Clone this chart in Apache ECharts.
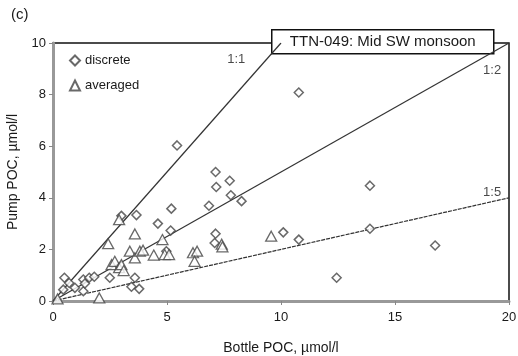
<!DOCTYPE html>
<html><head><meta charset="utf-8">
<script src="https://cdn.jsdelivr.net/npm/echarts@6/dist/echarts.min.js"></script>
<style>html,body{margin:0;padding:0;background:#fff}#c{width:518px;height:356px}</style>
</head><body><div id="c"></div>
<script>
const discrete = [[0.45,0.44],[0.5,0.9],[0.71,0.7],[0.96,0.51],[1.33,0.38],[1.33,0.83],[1.4,0.68],[1.59,0.9],[1.81,0.94],[2.49,0.9],[3.0,3.3],[3.44,0.55],[3.59,0.9],[3.78,0.47],[3.66,3.33],[4.6,3.0],[4.97,1.93],[5.16,2.73],[5.19,3.58],[5.44,6.03],[6.84,3.69],[7.09,2.25],[7.13,2.61],[7.13,5.0],[7.16,4.42],[7.75,4.66],[7.8,4.1],[8.27,3.87],[10.1,2.66],[10.78,2.38],[10.78,8.08],[12.44,0.9],[13.9,4.47],[13.9,2.8],[16.76,2.15]];
const averaged = [[0.2,0.08],[2.03,0.12],[2.42,2.22],[2.57,1.41],[2.71,1.54],[2.9,1.29],[2.9,3.15],[3.0,1.41],[3.1,1.18],[3.37,1.93],[3.59,2.6],[3.59,1.67],[3.81,1.93],[3.95,1.97],[4.42,1.78],[4.8,2.38],[4.9,1.8],[5.09,1.8],[6.14,1.87],[6.32,1.93],[6.21,1.54],[7.4,2.2],[7.43,2.1],[9.57,2.51]];
const line11 = [[0,0],[10,10]];
const line12 = [[0,0],[20,10]];
const line15 = [[0,0],[20,4]];
const ratioLabels = [[8.04,9.38,'1:1'],[19.26,8.92,'1:2'],[19.26,4.2,'1:5']];
const xTicks = [0,5,10,15,20];
const yTicks = [0,2,4,6,8,10];
const chartTitle = 'TTN-049: Mid SW monsoon';
const panelLabel = '(c)';

const chart = echarts.init(document.getElementById('c'));
const font = 'Liberation Sans, Arial, sans-serif';
const lineStyle = {color:'#333', width:1.2};
chart.setOption({
  animation:false,
  grid:{left:53,right:9,top:43,bottom:55,outerBoundsMode:'none',containLabel:false,show:true,borderColor:'#111',borderWidth:1.5,backgroundColor:'transparent'},
  xAxis:{type:'value',min:xTicks[0],max:xTicks[xTicks.length-1],interval:5,
    name:'Bottle POC, µmol/l',nameLocation:'middle',nameGap:40,
    nameTextStyle:{fontFamily:font,fontSize:14,color:'#1a1a1a'},
    axisLine:{lineStyle:{color:'#999',width:3}},
    axisTick:{show:true,length:4,lineStyle:{color:'#888'}},
    axisLabel:{fontFamily:font,fontSize:13,color:'#1a1a1a',margin:10},
    splitLine:{show:false}},
  yAxis:{type:'value',min:yTicks[0],max:yTicks[yTicks.length-1],interval:2,
    name:'Pump POC, µmol/l',nameLocation:'middle',nameGap:31,
    nameTextStyle:{fontFamily:font,fontSize:14,color:'#1a1a1a'},
    axisLine:{lineStyle:{color:'#999',width:3}},
    axisTick:{show:true,length:4,lineStyle:{color:'#888'}},
    axisLabel:{fontFamily:font,fontSize:13,color:'#1a1a1a',margin:7},
    splitLine:{show:false}},
  legend:{orient:'vertical',left:64,top:49,itemWidth:10,itemHeight:10,itemGap:12,
    data:['discrete','averaged'],textStyle:{fontFamily:font,fontSize:13,color:'#1a1a1a'}},
  series:[
    {type:'line',data:line11,symbol:'none',lineStyle:lineStyle,silent:true,z:1},
    {type:'line',data:line12,symbol:'none',lineStyle:lineStyle,silent:true,z:1},
    {type:'line',data:line15,symbol:'none',lineStyle:Object.assign({},lineStyle,{type:[4,1]}),silent:true,z:1},
    {name:'discrete',type:'scatter',data:discrete,symbol:'diamond',symbolSize:9,
      itemStyle:{color:'#fff',borderColor:'#444',borderWidth:1.5},z:3},
    {name:'averaged',type:'scatter',data:averaged,symbol:'triangle',symbolSize:[11,10],
      itemStyle:{color:'#fff',borderColor:'#444',borderWidth:1.3},z:3},
    {type:'scatter',data:ratioLabels,symbolSize:0,silent:true,
      label:{show:true,position:'inside',formatter:p=>p.data[2],fontFamily:font,fontSize:13,color:'#1a1a1a'}}
  ],
  graphic:[
    {type:'text',left:11,top:7,style:{text:panelLabel,font:'15px '+font,fill:'#1a1a1a'}},
    {type:'group',left:271,top:29,z:100,children:[
      {type:'rect',shape:{x:0,y:0,width:222,height:24},style:{fill:'#fff',stroke:'#111',lineWidth:1.5}},
      {type:'text',x:111,y:12,style:{text:chartTitle,font:'15px '+font,fill:'#1a1a1a',align:'center',verticalAlign:'middle'}}
    ]}
  ]
});
</script></body></html>
